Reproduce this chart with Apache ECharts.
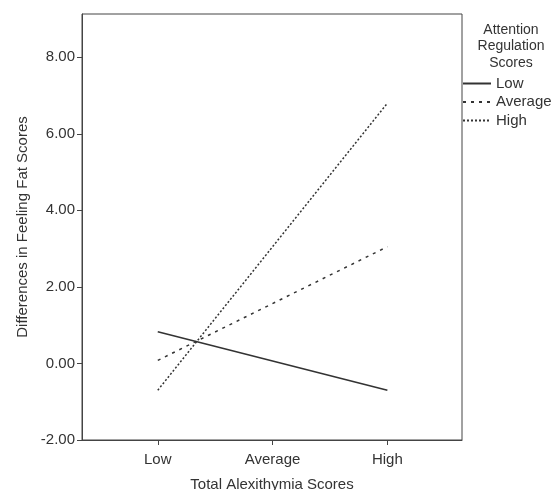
<!DOCTYPE html>
<html><head><meta charset="utf-8">
<script src="https://cdn.jsdelivr.net/npm/echarts@6/dist/echarts.min.js"></script>
<style>html,body{margin:0;padding:0;background:#fff}#c{width:553px;height:490px}</style>
</head><body><div id="c"></div>
<script>
var categories = ['Low', 'Average', 'High'];
var seriesNames = ['Low', 'Average', 'High'];
var lowValues = [0.83, -0.70];
var averageValues = [0.08, 3.05];
var highValues = [-0.70, 6.80];
var yTicks = [-2, 0, 2, 4, 6, 8];

var chart = echarts.init(document.getElementById('c'));
var font = 'Liberation Sans, Arial, sans-serif';
var fs = 15;
var txt = '#333';
var axisCol = '#444';
function mk(name, vals, type, w) {
  return {
    name: name, type: 'line', symbol: 'none',
    data: [[0, vals[0]], [2, vals[1]]],
    lineStyle: {color: '#333', width: w, type: type},
    itemStyle: {color: '#333'}
  };
}
chart.setOption({
  animation: false,
  title: {
    text: 'Attention\nRegulation\nScores', left: 511, top: 22, textAlign: 'center', padding: 0,
    textStyle: {fontFamily: font, fontSize: 14, fontWeight: 'normal', color: txt, lineHeight: 16.3}
  },
  legend: {
    orient: 'vertical', left: 462, top: 76, padding: 0, itemWidth: 28, itemHeight: 10, itemGap: 3.5,
    data: seriesNames,
    itemStyle: {opacity: 0},
    textStyle: {fontFamily: font, fontSize: fs, color: txt}
  },
  grid: {left: 82, right: 91, top: 14, bottom: 50, outerBoundsMode: 'none', containLabel: false,
    show: true, borderColor: axisCol, borderWidth: 1},
  xAxis: {
    type: 'value', min: -0.66, max: 2.65,
    name: 'Total Alexithymia Scores', nameLocation: 'middle', nameGap: 37,
    nameTextStyle: {fontFamily: font, fontSize: fs, color: txt},
    axisLine: {show: true, onZero: false, lineStyle: {color: axisCol}},
    axisTick: {show: true, length: 5, lineStyle: {color: axisCol}, customValues: [0, 1, 2]},
    axisLabel: {fontFamily: font, fontSize: fs, color: txt, margin: 12, customValues: [0, 1, 2],
      formatter: function (v) { return categories[Math.round(v)]; }},
    splitLine: {show: false}
  },
  yAxis: {
    type: 'value', min: -2, max: 9.13, interval: 2,
    name: 'Differences in Feeling Fat Scores', nameLocation: 'middle', nameGap: 52,
    nameTextStyle: {fontFamily: font, fontSize: fs, color: txt},
    axisLine: {show: true, onZero: false, lineStyle: {color: axisCol}},
    axisTick: {show: true, length: 5, lineStyle: {color: axisCol}, customValues: yTicks},
    axisLabel: {fontFamily: font, fontSize: fs, color: txt, margin: 7, customValues: yTicks,
      formatter: function (v) { return v.toFixed(2); }},
    splitLine: {show: false}
  },
  series: [
    mk('Low', lowValues, 'solid', 1.6),
    mk('Average', averageValues, [3, 5], 1.5),
    mk('High', highValues, [2, 2], 1.5)
  ]
});
</script></body></html>
